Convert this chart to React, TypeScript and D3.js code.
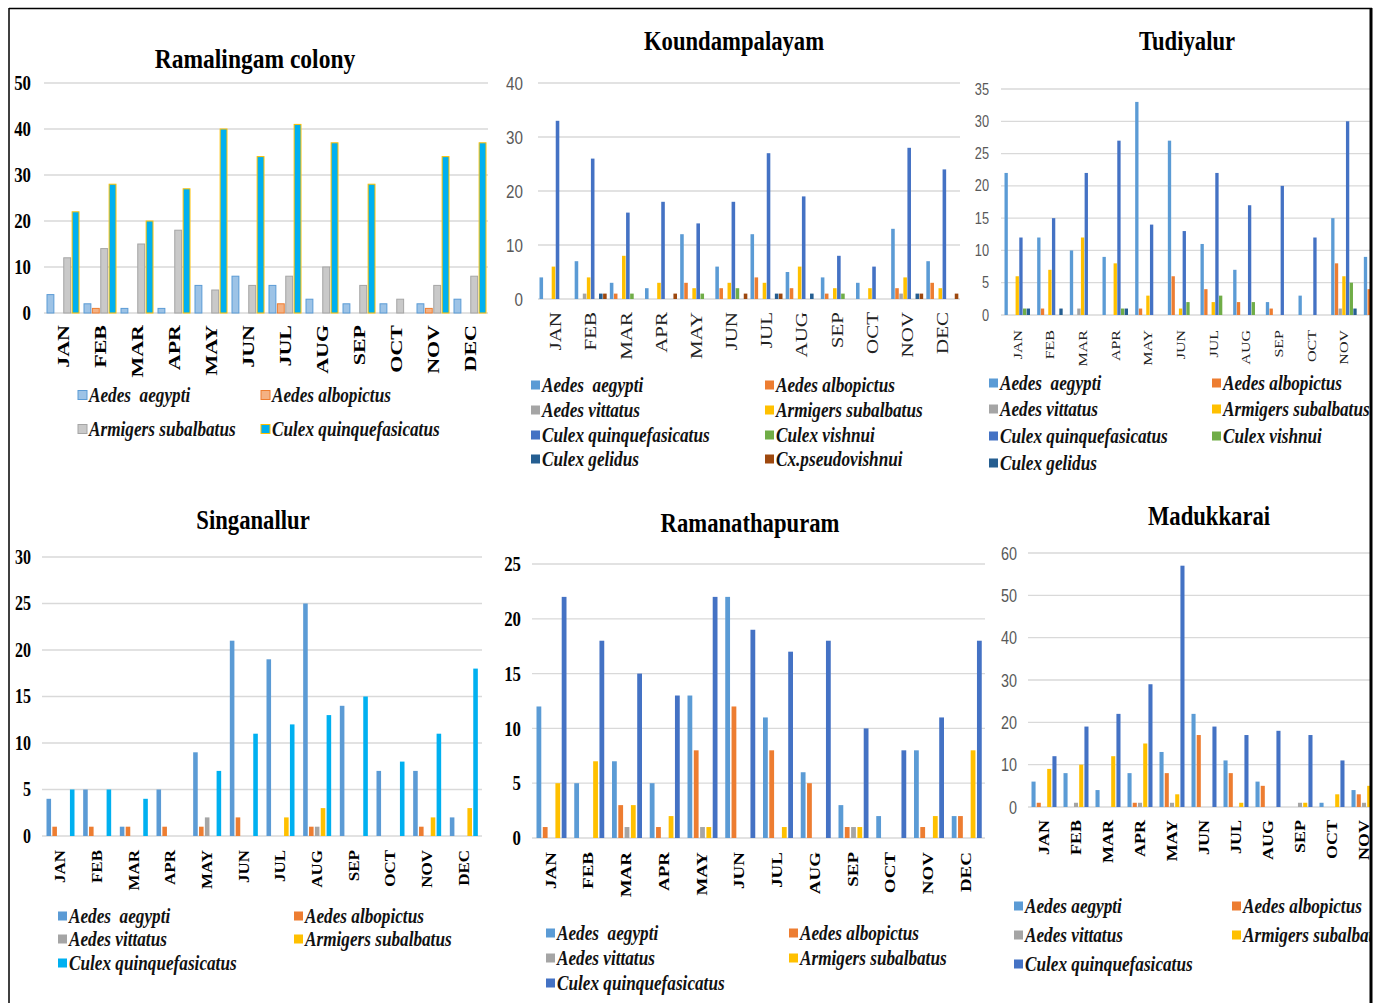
import React from 'react';
import * as d3 from 'd3';

const months = ['JAN', 'FEB', 'MAR', 'APR', 'MAY', 'JUN', 'JUL', 'AUG', 'SEP', 'OCT', 'NOV', 'DEC'];

// Ramalingam colony
const ramalingamSeries = ['Aedes  aegypti', 'Aedes albopictus', 'Armigers subalbatus', 'Culex quinquefasicatus'];
const ramalingamCounts = [
  [4, 2, 1, 1, 6, 8, 6, 3, 2, 2, 2, 3],
  [0, 1, 0, 0, 0, 0, 2, 0, 0, 0, 1, 0],
  [12, 14, 15, 18, 5, 6, 8, 10, 6, 3, 6, 8],
  [22, 28, 20, 27, 40, 34, 41, 37, 28, 0, 34, 37],
];

// Koundampalayam
const koundSeries = ['Aedes  aegypti', 'Aedes albopictus', 'Aedes vittatus', 'Armigers subalbatus',
  'Culex quinquefasicatus', 'Culex vishnui', 'Culex gelidus', 'Cx.pseudovishnui'];
const koundCounts = [
  [4, 7, 3, 2, 12, 6, 12, 5, 4, 3, 13, 7],
  [0, 0, 1, 0, 3, 2, 4, 2, 1, 0, 2, 3],
  [0, 1, 0, 0, 0, 0, 0, 0, 0, 0, 1, 0],
  [6, 4, 8, 3, 2, 3, 3, 6, 2, 2, 4, 2],
  [33, 26, 16, 18, 14, 18, 27, 19, 8, 6, 28, 24],
  [0, 0, 1, 0, 1, 2, 0, 0, 1, 0, 0, 0],
  [0, 1, 0, 0, 0, 0, 1, 1, 0, 0, 1, 0],
  [0, 1, 0, 1, 0, 1, 1, 0, 0, 0, 1, 1],
];

// Tudiyalur
const tudiSeries = ['Aedes  aegypti', 'Aedes albopictus', 'Aedes vittatus', 'Armigers subalbatus',
  'Culex quinquefasicatus', 'Culex vishnui', 'Culex gelidus'];
const tudiCounts = [
  [22, 12, 10, 9, 33, 27, 11, 7, 2, 3, 15, 9],
  [0, 1, 0, 0, 1, 6, 4, 2, 1, 0, 8, 4],
  [0, 0, 1, 0, 0, 0, 0, 0, 0, 0, 1, 0],
  [6, 7, 12, 8, 3, 1, 2, 0, 0, 0, 6, 0],
  [12, 15, 22, 27, 14, 13, 22, 17, 20, 12, 30, 0],
  [1, 0, 0, 1, 0, 2, 3, 2, 0, 0, 5, 0],
  [1, 1, 0, 1, 0, 0, 0, 0, 0, 0, 1, 0],
];

// Singanallur
const singaSeries = ['Aedes  aegypti', 'Aedes albopictus', 'Aedes vittatus', 'Armigers subalbatus', 'Culex quinquefasicatus'];
const singaCounts = [
  [4, 5, 1, 5, 9, 21, 19, 25, 14, 7, 7, 2],
  [1, 1, 1, 1, 1, 2, 0, 1, 0, 0, 1, 0],
  [0, 0, 0, 0, 2, 0, 0, 1, 0, 0, 0, 0],
  [0, 0, 0, 0, 0, 0, 2, 3, 0, 0, 2, 3],
  [5, 5, 4, 0, 7, 11, 12, 13, 15, 8, 11, 18],
];

// Ramanathapuram
const ramaSeries = ['Aedes  aegypti', 'Aedes albopictus', 'Aedes vittatus', 'Armigers subalbatus', 'Culex quinquefasicatus'];
const ramaCounts = [
  [12, 5, 7, 5, 13, 22, 11, 6, 3, 2, 8, 2],
  [1, 0, 3, 1, 8, 12, 8, 5, 1, 0, 1, 2],
  [0, 0, 1, 0, 1, 0, 0, 0, 1, 0, 0, 0],
  [5, 7, 3, 2, 1, 0, 1, 0, 1, 0, 2, 8],
  [22, 18, 15, 13, 22, 19, 17, 18, 10, 8, 11, 18],
];

// Madukkarai
const maduSeries = ['Aedes aegypti', 'Aedes albopictus', 'Aedes vittatus', 'Armigers subalbatus', 'Culex quinquefasicatus'];
const maduCounts = [
  [6, 8, 4, 8, 13, 22, 11, 6, 0, 1, 4, 0],
  [1, 0, 0, 1, 8, 17, 8, 5, 0, 0, 3, 0],
  [0, 1, 0, 1, 1, 0, 0, 0, 1, 0, 1, 0],
  [9, 10, 12, 15, 3, 0, 1, 0, 1, 3, 5, 0],
  [12, 19, 22, 29, 57, 19, 17, 18, 17, 11, 0, 0],
];

const SERIF = '"Liberation Serif", "Times New Roman", serif';
const SANS = '"Liberation Sans", Arial, sans-serif';
const SX = 0.8;
const EDGE = 1371; // the picture is cut off by its frame here

const officeColors = ['#5B9BD5', '#ED7D31', '#A5A5A5', '#FFC000', '#4472C4', '#70AD47', '#255E91', '#9E480E'];

function T(props: any) {
  const { x, y, sx = SX, children, ...rest } = props;
  return (
    <text transform={`translate(${x},${y}) scale(${sx},1)`} style={{ whiteSpace: 'pre' }} {...rest}>
      {children}
    </text>
  );
}

function Panel(props: any) {
  const c = props.cfg;
  const x = d3.scaleBand().domain(months).range([c.x0, c.x1]).padding(0);
  const inner = d3.scaleBand().domain(c.series).range(c.inner).paddingInner(c.innerPad);
  const y = d3.scaleLinear().domain([0, c.yMax]).range([c.yBase, c.yTop]);
  const ticks = d3.range(0, c.yMax + 0.001, c.tickStep);
  const visibleMonths = months.filter((m) => (x(m) as number) + x.bandwidth() / 2 < EDGE);

  return (
    <g>
      <T x={c.titleX} y={c.titleY} sx={0.84} textAnchor="middle" fontFamily={SERIF} fontWeight="bold" fontSize={c.titleSize}>
        {c.title}
      </T>
      {ticks.map((t: number) => (
        <g key={t}>
          <line x1={c.x0} x2={Math.min(c.x1, EDGE)} y1={y(t)} y2={y(t)} stroke="#D9D9D9" strokeWidth={1.3} />
          <T x={c.tick.x} y={y(t)} textAnchor="end" dominantBaseline="central" fontFamily={c.tick.font}
            fontWeight={c.tick.weight} fontSize={c.tick.size} fill={c.tick.color}>
            {t}
          </T>
        </g>
      ))}
      {c.counts.map((row: number[], si: number) =>
        row.map((v: number, mi: number) =>
          v > 0 ? (
            <rect key={`${si}-${mi}`}
              x={(x(months[mi]) as number) + (inner(c.series[si]) as number)}
              y={y(v)} width={inner.bandwidth()} height={c.yBase - y(v)}
              fill={c.colors[si]} stroke={c.strokes ? c.strokes[si] : 'none'} strokeWidth={c.strokes ? 1 : 0} />
          ) : null
        )
      )}
      {visibleMonths.map((m) => (
        <text key={m}
          transform={`translate(${(x(m) as number) + x.bandwidth() / 2},${c.xlab.top}) rotate(-90) scale(1,${SX})`}
          textAnchor="end" dominantBaseline="central" fontFamily={SERIF} fontWeight={c.xlab.weight}
          fontSize={c.xlab.size} fill={c.xlab.color}>
          {m}
        </text>
      ))}
      {c.series.map((s: string, i: number) => {
        const cx = c.legend.cols[i % 2];
        const cy = c.legend.rows[Math.floor(i / 2)];
        return (
          <g key={s}>
            <rect x={cx} y={cy - 4.5} width={9} height={9} fill={c.colors[i]}
              stroke={c.strokes ? c.strokes[i] : 'none'} strokeWidth={c.strokes ? 1 : 0} />
            <T x={cx + 11} y={cy} sx={0.86} dominantBaseline="central" fontFamily={SERIF} fontStyle="italic"
              fontWeight="bold" fontSize={c.legend.size} fill="#111">
              {s}
            </T>
          </g>
        );
      })}
    </g>
  );
}

const boldTick = (x: number, size: number) => ({ x, font: SERIF, size, weight: 'bold', color: '#000' });
const grayTick = (x: number, size: number) => ({ x, font: SANS, size, weight: 'normal', color: '#595959' });

const panels = [
  {
    title: 'Ramalingam colony', titleX: 255, titleY: 68, titleSize: 28,
    series: ramalingamSeries, counts: ramalingamCounts,
    colors: ['#9DC3E6', '#F4B183', '#C9C9C9', '#00B0F0'],
    strokes: ['#5B9BD5', '#ED7D31', '#A5A5A5', '#FFC000'],
    x0: 44, x1: 488, yBase: 313, yTop: 83, yMax: 50, tickStep: 10,
    inner: [3, 35], innerPad: 0.18,
    tick: boldTick(31, 21), xlab: { top: 325, size: 22, weight: 'bold', color: '#000' },
    legend: { cols: [78, 261], rows: [395, 429], size: 20 },
  },
  {
    title: 'Koundampalayam', titleX: 734, titleY: 50, titleSize: 27,
    series: koundSeries, counts: koundCounts, colors: officeColors,
    x0: 538, x1: 960, yBase: 299, yTop: 83, yMax: 40, tickStep: 10,
    inner: [1.5, 33.5], innerPad: 0.12,
    tick: grayTick(523, 19), xlab: { top: 312, size: 21, weight: 'normal', color: '#222' },
    legend: { cols: [531, 765], rows: [385, 410, 435, 459], size: 20 },
  },
  {
    title: 'Tudiyalur', titleX: 1187, titleY: 50, titleSize: 27,
    series: tudiSeries, counts: tudiCounts, colors: officeColors.slice(0, 7),
    x0: 1001, x1: 1393, yBase: 315, yTop: 89, yMax: 35, tickStep: 5,
    inner: [3.5, 29], innerPad: 0.1,
    tick: grayTick(989, 16), xlab: { top: 330, size: 16, weight: 'normal', color: '#222' },
    legend: { cols: [989, 1212], rows: [383, 409, 436, 463], size: 20 },
  },
  {
    title: 'Singanallur', titleX: 253, titleY: 529, titleSize: 27,
    series: singaSeries, counts: singaCounts,
    colors: ['#5B9BD5', '#ED7D31', '#A5A5A5', '#FFC000', '#00B0F0'],
    x0: 42, x1: 482, yBase: 836, yTop: 557, yMax: 30, tickStep: 5,
    inner: [4.5, 32.5], innerPad: 0.22,
    tick: boldTick(31, 20), xlab: { top: 850, size: 17, weight: 'bold', color: '#000' },
    legend: { cols: [58, 294], rows: [916, 939, 963], size: 20 },
  },
  {
    title: 'Ramanathapuram', titleX: 750, titleY: 532, titleSize: 27,
    series: ramaSeries, counts: ramaCounts, colors: officeColors.slice(0, 5),
    x0: 532, x1: 985, yBase: 838, yTop: 564, yMax: 25, tickStep: 5,
    inner: [4.5, 34.5], innerPad: 0.24,
    tick: boldTick(521, 21), xlab: { top: 852, size: 19, weight: 'bold', color: '#000' },
    legend: { cols: [546, 789], rows: [933, 958, 983], size: 20 },
  },
  {
    title: 'Madukkarai', titleX: 1209, titleY: 525, titleSize: 27,
    series: maduSeries, counts: maduCounts, colors: officeColors.slice(0, 5),
    x0: 1028, x1: 1412, yBase: 807, yTop: 553, yMax: 60, tickStep: 10,
    inner: [3.5, 28.5], innerPad: 0.22,
    tick: grayTick(1017, 18), xlab: { top: 820, size: 18, weight: 'bold', color: '#000' },
    legend: { cols: [1014, 1232], rows: [906, 935, 964], size: 20 },
  },
];

export default function App() {
  return (
    <div style={{ position: 'absolute', left: 0, top: 0 }}>
      <svg width={1383} height={1003} viewBox="0 0 1383 1003" style={{ display: 'block', background: '#fff' }}>
        <defs>
          <clipPath id="frame">
            <rect x={0} y={0} width={EDGE} height={1003} />
          </clipPath>
        </defs>
        <rect x={0} y={0} width={1383} height={1003} fill="#fff" />
        <g clipPath="url(#frame)">
          {panels.map((p) => (
            <Panel key={p.title} cfg={p} />
          ))}
        </g>
        <line x1={9} x2={1372} y1={8.5} y2={8.5} stroke="#000" strokeWidth={1.5} />
        <line x1={9} x2={9} y1={8} y2={1003} stroke="#000" strokeWidth={1.5} />
        <line x1={1371} x2={1371} y1={8} y2={1003} stroke="#000" strokeWidth={3} />
      </svg>
    </div>
  );
}
